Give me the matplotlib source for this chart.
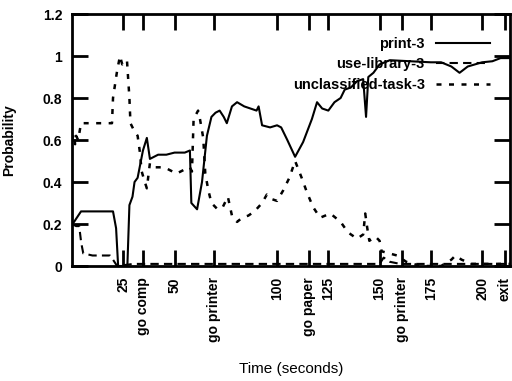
import matplotlib
matplotlib.use("Agg")
import matplotlib.pyplot as plt

# ---- data ----
t_print = [0, 1, 4.4, 20, 21.5, 22.5, 27, 28, 29.5, 30.5, 32, 33, 34.6, 36.5, 38, 40, 42, 46, 50, 55,
           57.5, 58.2, 61, 63.4, 65.8, 68, 70, 72, 74, 75.5, 78, 80.5, 84, 87, 90, 91, 92.7, 96.6,
           100, 102, 105, 108.8, 112.7, 117, 119.5, 122, 125, 128, 131, 133, 136, 139, 142, 143.4,
           144.5, 147, 150, 155, 165, 175, 180, 185, 189, 193, 200, 205, 209, 213.6]
p_print = [0.20, 0.21, 0.26, 0.26, 0.18, 0.0, 0.0, 0.29, 0.33, 0.40, 0.42, 0.47, 0.55, 0.61, 0.51, 0.52,
           0.53, 0.53, 0.54, 0.54, 0.55, 0.30, 0.27, 0.40, 0.62, 0.71, 0.73, 0.74, 0.71, 0.68, 0.76,
           0.78, 0.76, 0.75, 0.74, 0.76, 0.67, 0.66, 0.67, 0.66, 0.60, 0.52, 0.59, 0.70, 0.78, 0.75,
           0.74, 0.78, 0.80, 0.84, 0.85, 0.88, 0.89, 0.71, 0.90, 0.92, 0.96, 0.98, 0.975, 0.97, 0.97,
           0.95, 0.92, 0.95, 0.97, 0.975, 0.99, 0.99]

t_lib = [0, 2, 3.5, 4.5, 5.5, 10, 18.5, 20, 22, 30, 60, 100, 150, 152, 155, 160, 213.6]
p_lib = [0.20, 0.19, 0.19, 0.11, 0.06, 0.05, 0.05, 0.03, 0.0, 0.01, 0.01, 0.01, 0.01, 0.04, 0.02,
         0.01, 0.01]

t_unc = [0, 1, 1.5, 2, 3, 4.4, 19.5, 20, 22, 23.4, 24.5, 25.4, 26.8, 28, 28.5, 30, 32, 33, 34, 35.5,
         36.5, 38, 40.5, 45, 51, 55, 57.5, 58.5, 59.3, 61.5, 62.4, 64, 65, 66.5, 68, 71, 73.5, 76, 78,
         80.5, 83, 86, 89, 92.7, 95, 97, 100, 103, 106, 108.8, 112, 114.6, 117.6, 121, 126, 131,
         134.6, 139, 142, 143, 144, 145, 148, 150, 151, 158.5, 163, 170, 180, 185, 187, 190, 195,
         200, 213.6]
p_unc = [0.60, 0.63, 0.58, 0.62, 0.60, 0.68, 0.68, 0.80, 0.93, 1.0, 0.96, 0.97, 0.98, 0.80, 0.68,
         0.65, 0.62, 0.55, 0.45, 0.40, 0.37, 0.49, 0.47, 0.47, 0.44, 0.46, 0.47, 0.45, 0.70, 0.74,
         0.70, 0.61, 0.44, 0.36, 0.30, 0.27, 0.28, 0.33, 0.24, 0.21, 0.23, 0.24, 0.26, 0.30, 0.34,
         0.32, 0.31, 0.36, 0.42, 0.50, 0.42, 0.35, 0.28, 0.23, 0.25, 0.21, 0.16, 0.13, 0.15, 0.25,
         0.18, 0.12, 0.14, 0.12, 0.07, 0.05, 0.02, 0.0, 0.0, 0.03, 0.05, 0.03, 0.01, 0.01, 0.01]

xtick_pos = [25, 34.6, 50, 69.3, 100, 115.6, 125, 150, 161, 175, 200, 211]
xtick_labels = ["25", "go comp", "50", "go printer", "100", "go paper", "125", "150",
                "go printer", "175", "200", "exit"]
ytick_pos = [0, 0.2, 0.4, 0.6, 0.8, 1.0, 1.2]
ytick_labels = ["0", "0.2", "0.4", "0.6", "0.8", "1", "1.2"]

plt.rcParams['font.family'] = ['Liberation Sans', 'DejaVu Sans']

fig = plt.figure(figsize=(5.12, 3.81), dpi=100)
ax = fig.add_axes([72/512, 1-266/381, (510-72)/512, (266-14)/381])

ax.plot(t_print, p_print, color='black', lw=1.5, ls='-', label='print-3')
ax.plot(t_lib, p_lib, color='black', lw=1.5, ls=(0, (4, 2.5)), label='use-library-3')
ax.plot(t_unc, p_unc, color='black', lw=1.8, ls=(0, (2, 3)), label='unclassified-task-3')

ax.set_xlim(0, 213.6)
ax.set_ylim(0, 1.2)
ax.set_xticks(xtick_pos)
ax.set_xticklabels(xtick_labels, rotation=90, fontsize=10, fontweight='bold', va='top')
ax.set_yticks(ytick_pos)
ax.set_yticklabels(ytick_labels, fontsize=10, fontweight='bold')
ax.tick_params(axis='both', direction='in', length=11.5, width=2, top=True, right=True)
ax.tick_params(axis='x', pad=8)
ax.tick_params(axis='y', pad=7)
for s in ax.spines.values():
    s.set_linewidth(2)

ax.set_xlabel('Time (seconds)', fontsize=11)
ax.xaxis.set_label_coords(0.5, -0.38)
ax.set_ylabel('Probability', fontsize=10, fontweight='bold')
ax.yaxis.set_label_coords(-0.128, 0.5)

ax.legend(loc='upper right', frameon=False, markerfirst=False, handlelength=3.7,
          prop={'size': 10.5, 'weight': 'bold'}, labelspacing=0.45, handletextpad=0.8,
          bbox_to_anchor=(0.985, 0.962))

fig.savefig('out.png', dpi=100)
